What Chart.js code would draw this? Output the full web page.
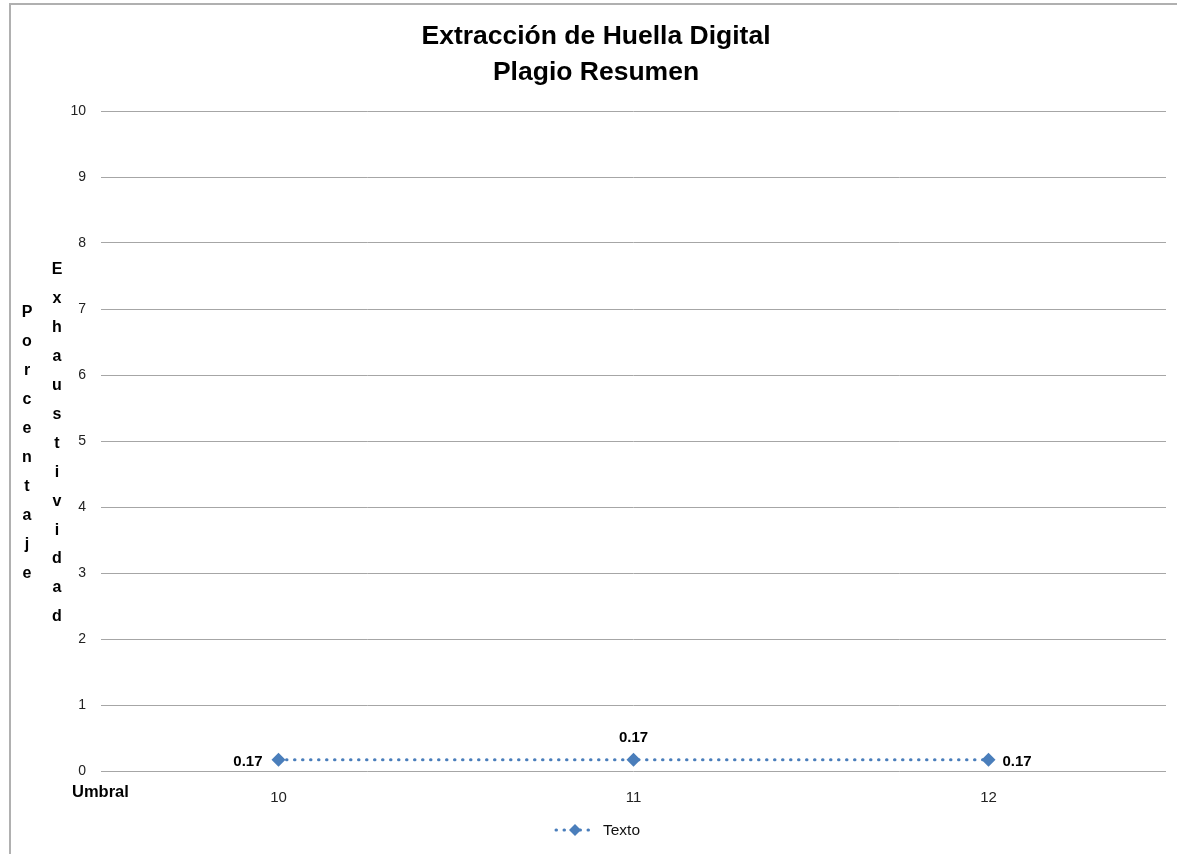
<!DOCTYPE html>
<html>
<head>
<meta charset="utf-8">
<script src="https://cdn.jsdelivr.net/npm/chart.js@4/dist/chart.umd.min.js"></script>
<style>
  html, body { margin: 0; padding: 0; background: #fff; }
  #wrap { width: 1177px; height: 854px; position: relative; }
</style>
</head>
<body>
<div id="wrap"><canvas id="chart" width="1177" height="854"></canvas></div>
<script>
// --- data ---
const umbrales = ['10', '11', '12'];
const textoValues = [0.17, 0.17, 0.17];
const yTicks = [0, 1, 2, 3, 4, 5, 6, 7, 8, 9, 10];
const titleLines = ['Extracción de Huella Digital', 'Plagio Resumen'];
const yTitleCols = ['Porcentaje', 'Exhaustividad'];
const xTitle = 'Umbral';
const seriesName = 'Texto';

const FONT = "'Liberation Sans', Arial, sans-serif";
const BLUE = '#4a7ebb';

// where each data label sits relative to its point
const labelPos = ['left', 'top', 'right'];

const decor = {
  id: 'decor',
  afterDraw(chart) {
    const ctx = chart.ctx;
    ctx.save();
    // outer frame (right/bottom are cut off in the reference)
    ctx.strokeStyle = '#b0b0b0';
    ctx.lineWidth = 2;
    ctx.beginPath();
    ctx.moveTo(10, 900); ctx.lineTo(10, 4); ctx.lineTo(1200, 4);
    ctx.stroke();

    // title
    ctx.fillStyle = '#000';
    ctx.textAlign = 'center';
    ctx.textBaseline = 'middle';
    ctx.font = 'bold 26.5px ' + FONT;
    ctx.fillText(titleLines[0], 596, 37);
    ctx.fillText(titleLines[1], 596, 73);

    // stacked y titles
    ctx.font = 'bold 16px ' + FONT;
    yTitleCols.forEach((word, c) => {
      const x = c === 0 ? 27 : 57;
      const y0 = c === 0 ? 313 : 270;
      [...word].forEach((ch, i) => ctx.fillText(ch, x, y0 + i * 28.9));
    });

    // x title
    ctx.textAlign = 'left';
    ctx.font = 'bold 16.5px ' + FONT;
    ctx.fillText(xTitle, 72, 792);

    // data labels
    const meta = chart.getDatasetMeta(0);
    ctx.font = 'bold 15px ' + FONT;
    meta.data.forEach((pt, i) => {
      const txt = textoValues[i].toFixed(2);
      if (labelPos[i] === 'left') { ctx.textAlign = 'right'; ctx.fillText(txt, pt.x - 16, pt.y + 2); }
      else if (labelPos[i] === 'right') { ctx.textAlign = 'left'; ctx.fillText(txt, pt.x + 14, pt.y + 2); }
      else { ctx.textAlign = 'center'; ctx.fillText(txt, pt.x, pt.y - 22); }
    });

    // legend
    const lx = 575, ly = 830;
    ctx.strokeStyle = BLUE;
    ctx.lineWidth = 3;
    ctx.lineCap = 'round';
    ctx.setLineDash([0.5, 7.5]);
    ctx.beginPath(); ctx.moveTo(556, ly); ctx.lineTo(596, ly); ctx.stroke();
    ctx.setLineDash([]);
    ctx.fillStyle = BLUE;
    ctx.beginPath();
    ctx.moveTo(lx, ly - 6); ctx.lineTo(lx + 6, ly); ctx.lineTo(lx, ly + 6); ctx.lineTo(lx - 6, ly);
    ctx.closePath(); ctx.fill();
    ctx.fillStyle = '#111';
    ctx.textAlign = 'left';
    ctx.font = '15.5px ' + FONT;
    ctx.fillText(seriesName, 603, ly + 1);
    ctx.restore();
  }
};

new Chart(document.getElementById('chart'), {
  type: 'line',
  data: {
    labels: umbrales,
    datasets: [{
      label: seriesName,
      data: textoValues,
      borderColor: BLUE,
      backgroundColor: BLUE,
      borderWidth: 3,
      borderDash: [0.5, 7.5],
      borderCapStyle: 'round',
      pointStyle: 'rectRot',
      pointRadius: 7,
      pointBackgroundColor: BLUE,
      pointBorderColor: BLUE,
      pointBorderWidth: 0,
      tension: 0
    }]
  },
  options: {
    responsive: false,
    animation: false,
    events: [],
    layout: { padding: { left: 0, top: 111, right: 11, bottom: 0 } },
    plugins: { legend: { display: false }, title: { display: false }, tooltip: { enabled: false } },
    scales: {
      x: {
        offset: true,
        grid: { display: false, drawTicks: false },
        border: { display: false },
        ticks: { color: '#222', font: { family: FONT, size: 15 }, padding: 18 },
        afterFit(s) { s.height = 83; }
      },
      y: {
        min: 0, max: 10,
        afterBuildTicks(s) { s.ticks = yTicks.map(v => ({ value: v })); },
        grid: { color: '#a6a6a6', lineWidth: 1, drawTicks: false },
        border: { display: false },
        ticks: { color: '#222', font: { family: FONT, size: 14 }, padding: 15 },
        afterFit(s) { s.width = 101; }
      }
    }
  },
  plugins: [decor]
});
</script>
</body>
</html>
